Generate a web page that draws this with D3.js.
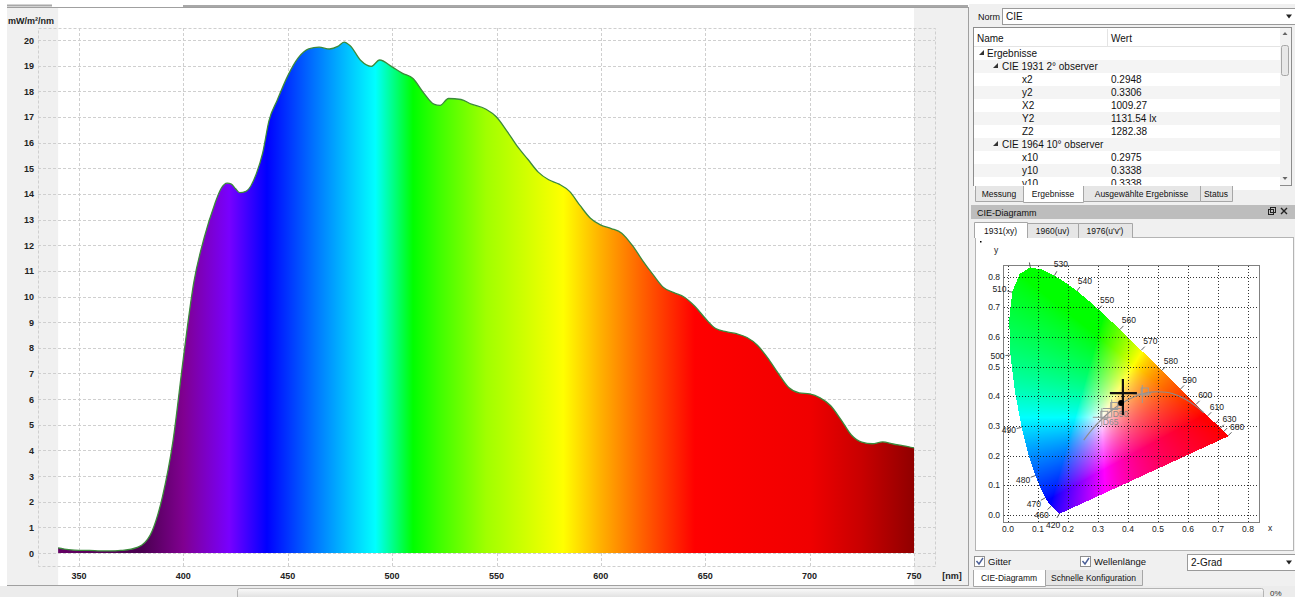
<!DOCTYPE html>
<html>
<head>
<meta charset="utf-8">
<script src="https://cdn.jsdelivr.net/npm/d3@7"></script>
<style>
body { margin: 0; background: #fff; overflow: hidden; }
text { font-family: "Liberation Sans", Arial, sans-serif; }
</style>
</head>
<body>
<svg id="main" width="1295" height="597"></svg>
<script>
// spectrum [nm, mW/m²/nm]
var spectrum = [
  [340,0.2],[345,0.13],[350,0.1],[355,0.1],[360,0.08],[365,0.08],[370,0.1],[375,0.15],
  [380,0.3],[385,0.85],[390,2.2],[395,4.35],[400,7.6],[405,10.55],[410,12.3],[415,13.6],
  [418,14.2],[421,14.42],[423,14.38],[425,14.2],[427,14.05],[430,14.1],[435,14.8],[438,15.6],
  [441,16.85],[445,17.66],[450,18.6],[455,19.3],[460,19.65],[465,19.72],[470,19.65],[474,19.75],
  [477,19.92],[480,19.77],[485,19.2],[490,18.97],[494,19.22],[500,18.95],[505,18.7],[510,18.5],
  [515,17.95],[520,17.5],[523,17.45],[527,17.72],[533,17.68],[538,17.5],[545,17.3],[550,17.0],
  [555,16.45],[560,15.85],[565,15.35],[570,14.85],[575,14.55],[580,14.38],[585,14.1],[590,13.55],
  [595,13.05],[600,12.78],[605,12.65],[610,12.47],[615,12.0],[620,11.4],[625,10.85],[630,10.35],
  [635,10.15],[640,9.97],[645,9.62],[650,9.15],[655,8.75],[660,8.63],[665,8.55],[670,8.4],
  [675,8.1],[680,7.6],[685,7.0],[690,6.45],[695,6.24],[700,6.2],[705,6.05],[710,5.75],
  [715,5.2],[720,4.6],[725,4.32],[730,4.26],[735,4.33],[740,4.25],[745,4.18],[750,4.1]
];
var fillStops = [
  [340,"#640064"],[380,"#4a0050"],[400,"#800090"],[422,"#7800ff"],[440,"#0000ff"],
  [462,"#0070ff"],[480,"#00c8ff"],[492,"#00ffff"],[510,"#00ff00"],[523,"#40ff00"],
  [545,"#a0ff00"],[582,"#ffff00"],[600,"#ffb000"],[620,"#ff6000"],[645,"#ff0000"],
  [700,"#f00000"],[725,"#c80000"],[750,"#900000"]
];
var xTicks = [350,400,450,500,550,600,650,700,750];
var yTicks = d3.range(0, 21);

// CIE 1931 spectral locus [nm, x, y]
var locus = [
  [380,0.1741,0.0050],[390,0.1738,0.0049],[400,0.1733,0.0048],[410,0.1726,0.0048],[420,0.1714,0.0051],
  [430,0.1689,0.0069],[440,0.1644,0.0109],[450,0.1566,0.0177],[455,0.1510,0.0227],[460,0.1440,0.0297],
  [465,0.1355,0.0399],[470,0.1241,0.0578],[475,0.1096,0.0868],[480,0.0913,0.1327],[485,0.0687,0.2007],
  [490,0.0454,0.2950],[495,0.0235,0.4127],[500,0.0082,0.5384],[505,0.0039,0.6548],[510,0.0139,0.7502],
  [515,0.0389,0.8120],[520,0.0743,0.8338],[525,0.1142,0.8262],[530,0.1547,0.8059],[535,0.1929,0.7816],
  [540,0.2296,0.7543],[545,0.2658,0.7243],[550,0.3016,0.6923],[555,0.3373,0.6589],[560,0.3731,0.6245],
  [565,0.4087,0.5896],[570,0.4441,0.5547],[575,0.4788,0.5202],[580,0.5125,0.4866],[585,0.5448,0.4544],
  [590,0.5752,0.4242],[595,0.6029,0.3965],[600,0.6270,0.3725],[605,0.6482,0.3514],[610,0.6658,0.3340],
  [615,0.6801,0.3197],[620,0.6915,0.3083],[630,0.7079,0.2920],[640,0.7190,0.2809],[650,0.7260,0.2740],
  [660,0.7300,0.2700],[680,0.7334,0.2666],[700,0.7347,0.2653]
];
var locusLabels = [420,460,470,480,490,500,510,530,540,550,560,570,580,590,600,610,630,680];
var locusTicks = [420,460,470,480,490,500,510,520,530,540,550,560,570,580,590,600,610,620,630,640,680];
var planck = [
  [0.6528,0.3444],[0.6251,0.3674],[0.5857,0.3931],[0.5497,0.4081],[0.5267,0.4133],[0.4770,0.4137],
  [0.4369,0.4041],[0.4053,0.3907],[0.3805,0.3768],[0.3451,0.3516],[0.3221,0.3318],[0.3064,0.3166],
  [0.2952,0.3048],[0.2807,0.2884],[0.2637,0.2675],[0.2524,0.2521]
];
var whitePoints = [["D65",0.3127,0.3290],["D50",0.3457,0.3585],["",0.4476,0.4074]];
var measuredCross = [0.383, 0.397];
var measuredDot = [0.377, 0.377];
var cieTicks = [0,0.1,0.2,0.3,0.4,0.5,0.6,0.7,0.8];

var tableRows = [
  [0,"Ergebnisse",""],[1,"CIE 1931 2° observer",""],[2,"x2","0.2948"],[2,"y2","0.3306"],
  [2,"X2","1009.27"],[2,"Y2","1131.54 lx"],[2,"Z2","1282.38"],[1,"CIE 1964 10° observer",""],
  [2,"x10","0.2975"],[2,"y10","0.3338"],[2,"y10","0.3338"]
];
var resultTabs = ["Messung","Ergebnisse","Ausgewählte Ergebnisse","Status"];
var cieTabs = ["1931(xy)","1960(uv)","1976(u'v')"];
var bottomTabs = ["CIE-Diagramm","Schnelle Konfiguration"];

var svg = d3.select("#main");
var ui = "#a0a0a0";

// ---------- spectrum panel ----------
var x = d3.scaleLinear().domain([350, 750]).range([79, 914]);
var y = d3.scaleLinear().domain([0, 20]).range([553, 40]);

svg.append("rect").attr("x", 7).attr("y", 8).attr("width", 961).attr("height", 578).attr("fill", "#fff");
svg.append("rect").attr("x", 7).attr("y", 8).attr("width", x(340) - 7).attr("height", 578).attr("fill", "#f0f0f0");
svg.append("rect").attr("x", x(750)).attr("y", 8).attr("width", 968 - x(750)).attr("height", 578).attr("fill", "#f0f0f0");
svg.append("line").attr("x1", 7).attr("x2", 968).attr("y1", 7.5).attr("y2", 7.5).attr("stroke", ui);
svg.append("line").attr("x1", 7).attr("x2", 52).attr("y1", 5.5).attr("y2", 5.5).attr("stroke", "#a8a8a8").attr("stroke-width", 2);
svg.append("line").attr("x1", 183).attr("x2", 968).attr("y1", 6).attr("y2", 6).attr("stroke", "#a8a8a8").attr("stroke-width", 2);
svg.append("line").attr("x1", 968.5).attr("x2", 968.5).attr("y1", 7).attr("y2", 586).attr("stroke", ui);

var grid = svg.append("g").attr("stroke", "#cfcfcf").attr("stroke-dasharray", "3,2").attr("fill", "none");
grid.append("rect").attr("x", 38.5).attr("y", 28.5).attr("width", 897).attr("height", 538);
grid.selectAll(".vg").data(xTicks).enter().append("line")
  .attr("x1", function(d) { return Math.round(x(d)) + 0.5; })
  .attr("x2", function(d) { return Math.round(x(d)) + 0.5; })
  .attr("y1", 28).attr("y2", 566);
grid.selectAll(".hg").data(yTicks).enter().append("line")
  .attr("y1", function(d) { return Math.round(y(d)) + 0.5; })
  .attr("y2", function(d) { return Math.round(y(d)) + 0.5; })
  .attr("x1", 38).attr("x2", 935);

var grad = svg.append("defs").append("linearGradient").attr("id", "spec")
  .attr("gradientUnits", "userSpaceOnUse")
  .attr("x1", x(340)).attr("x2", x(750)).attr("y1", 0).attr("y2", 0);
grad.selectAll("stop").data(fillStops).enter().append("stop")
  .attr("offset", function(d) { return (d[0] - 340) / 410; })
  .attr("stop-color", function(d) { return d[1]; });

var area = d3.area().x(function(d) { return x(d[0]); }).y0(y(0)).y1(function(d) { return y(d[1]); }).curve(d3.curveMonotoneX);
var line = d3.line().x(function(d) { return x(d[0]); }).y(function(d) { return y(d[1]); }).curve(d3.curveMonotoneX);
svg.append("path").datum(spectrum).attr("d", area).attr("fill", "url(#spec)");
svg.append("path").datum(spectrum).attr("d", line).attr("fill", "none").attr("stroke", "#3b8a3b").attr("stroke-width", 1.3);

svg.selectAll(".yl").data(yTicks).enter().append("text")
  .attr("x", 34).attr("y", function(d) { return y(d) + 3.5; })
  .attr("text-anchor", "end").attr("font-size", 9).attr("font-weight", "bold").attr("fill", "#222")
  .text(function(d) { return d; });
svg.selectAll(".xl").data(xTicks).enter().append("text")
  .attr("x", function(d) { return x(d); }).attr("y", 579)
  .attr("text-anchor", "middle").attr("font-size", 9).attr("font-weight", "bold").attr("fill", "#222")
  .text(function(d) { return d; });
svg.append("text").attr("x", 952).attr("y", 579).attr("text-anchor", "middle").attr("font-size", 9)
  .attr("font-weight", "bold").attr("fill", "#222").text("[nm]");
svg.append("text").attr("x", 8).attr("y", 24).attr("font-size", 9).attr("font-weight", "bold").attr("fill", "#222").text("mW/m²/nm");

// bottom status bar
svg.append("rect").attr("x", 0).attr("y", 586).attr("width", 1295).attr("height", 11).attr("fill", "#ececec");
svg.append("line").attr("x1", 7).attr("x2", 968).attr("y1", 585.5).attr("y2", 585.5).attr("stroke", ui);
var pg = svg.select("defs").append("linearGradient").attr("id", "pbar").attr("x1", 0).attr("x2", 0).attr("y1", 0).attr("y2", 1);
pg.append("stop").attr("offset", 0).attr("stop-color", "#fafafa");
pg.append("stop").attr("offset", 1).attr("stop-color", "#d8d8d8");
svg.append("rect").attr("x", 237.5).attr("y", 588.5).attr("width", 1026).attr("height", 12).attr("rx", 2)
  .attr("fill", "url(#pbar)").attr("stroke", "#b4b4b4");
svg.append("text").attr("x", 1270).attr("y", 596).attr("font-size", 8).attr("fill", "#333").text("0%");

// ---------- right panel ----------
var rp = svg.append("g");
rp.append("rect").attr("x", 969).attr("y", 4).attr("width", 326).attr("height", 582).attr("fill", "#f0f0f0");

function combo(x0, x1, y0, y1, label) {
  rp.append("rect").attr("x", x0 + 0.5).attr("y", y0 + 0.5).attr("width", x1 - x0).attr("height", y1 - y0)
    .attr("fill", "#fff").attr("stroke", "#9a9a9a");
  rp.append("text").attr("x", x0 + 4).attr("y", y1 - 4).attr("font-size", 10).attr("fill", "#111").text(label);
  rp.append("path").attr("d", "M" + (x1 - 10) + "," + (y0 + (y1 - y0) / 2 - 1.5) + "h6l-3,4z").attr("fill", "#222");
}
combo(1002, 1296, 8, 24, "CIE");
rp.append("text").attr("x", 978).attr("y", 20).attr("font-size", 9).attr("fill", "#111").text("Norm");

// results table
rp.append("rect").attr("x", 973.5).attr("y", 27.5).attr("width", 318).attr("height", 158).attr("fill", "#fff").attr("stroke", "#8c8c8c");
rp.selectAll(".row").data(tableRows).enter().append("rect")
  .attr("x", 974).attr("y", function(d, i) { return 47 + i * 13; })
  .attr("width", 306).attr("height", 13)
  .attr("fill", function(d, i) { return i % 2 ? "#f4f4f4" : "#fff"; });
rp.append("rect").attr("x", 974).attr("y", 180).attr("width", 306).attr("height", 5).attr("fill", "#fff");
rp.append("line").attr("x1", 974).attr("x2", 1280).attr("y1", 46.5).attr("y2", 46.5).attr("stroke", "#e4e4e4");
rp.append("line").attr("x1", 1107.5).attr("x2", 1107.5).attr("y1", 29).attr("y2", 46).attr("stroke", "#e4e4e4");
rp.append("text").attr("x", 977).attr("y", 42).attr("font-size", 10).attr("fill", "#111").text("Name");
rp.append("text").attr("x", 1111).attr("y", 42).attr("font-size", 10).attr("fill", "#111").text("Wert");
var rowText = rp.append("g").attr("clip-path", "url(#tclip)");
svg.select("defs").append("clipPath").attr("id", "tclip").append("rect").attr("x", 974).attr("y", 28).attr("width", 306).attr("height", 157);
rowText.selectAll(".nm").data(tableRows).enter().append("text")
  .attr("x", function(d) { return [987, 1002, 1022][d[0]]; })
  .attr("y", function(d, i) { return 57 + i * 13; })
  .attr("font-size", 10).attr("fill", "#111")
  .text(function(d) { return d[1]; });
rowText.selectAll(".val").data(tableRows).enter().append("text")
  .attr("x", 1111).attr("y", function(d, i) { return 57 + i * 13; })
  .attr("font-size", 10).attr("fill", "#111")
  .text(function(d) { return d[2]; });
rowText.selectAll(".tri").data(tableRows.filter(function(d) { return d[0] < 2; })).enter().append("path")
  .attr("d", function(d) {
    var i = tableRows.indexOf(d), cx0 = d[0] ? 994 : 980, cy0 = 54 + i * 13;
    return "M" + (cx0 + 4) + "," + (cy0 - 4) + "L" + (cx0 + 4) + "," + (cy0 + 1) + "L" + (cx0 - 1) + "," + (cy0 + 1) + "z";
  })
  .attr("fill", "#333");
// scrollbar
rp.append("rect").attr("x", 1280).attr("y", 28).attr("width", 11).attr("height", 157).attr("fill", "#f2f2f2");
rp.append("rect").attr("x", 1281.5).attr("y", 45.5).attr("width", 7).attr("height", 30).attr("rx", 2).attr("fill", "#e8e8e8").attr("stroke", "#a6a6a6");
rp.append("path").attr("d", "M1282.5,35h5l-2.5,-3z").attr("fill", "#666");
rp.append("path").attr("d", "M1282.5,177h5l-2.5,3z").attr("fill", "#666");

function tabRow(labels, edges, sel, y0, y1, down) {
  labels.forEach(function(lb, i) {
    var a = edges[i], b = edges[i + 1], s = i === sel;
    var t = down ? y0 : y1, e = down ? y1 + (s ? 1 : 0) : y0 - (s ? 1 : 0);
    rp.append("path")
      .attr("d", "M" + (a + 0.5) + "," + t + "V" + (e + 0.5) + "H" + (b + 0.5) + "V" + t)
      .attr("fill", s ? "#fff" : "#e6e6e6").attr("stroke", "#a6a6a6");
    rp.append("text").attr("x", (a + b) / 2).attr("y", (y0 + y1) / 2 + 3.5)
      .attr("text-anchor", "middle").attr("font-size", 8.5).attr("fill", "#111").text(lb);
  });
}
tabRow(resultTabs, [975, 1023, 1083, 1200, 1232], 1, 186, 201, true);

// CIE-Diagramm dock title
rp.append("rect").attr("x", 971).attr("y", 205).attr("width", 324).attr("height", 14).attr("fill", "#bdbdbd");
rp.append("text").attr("x", 977).attr("y", 215.5).attr("font-size", 9).attr("fill", "#111").text("CIE-Diagramm");
rp.append("rect").attr("x", 1268.5).attr("y", 209.5).attr("width", 5).attr("height", 5).attr("fill", "none").attr("stroke", "#222");
rp.append("rect").attr("x", 1270.5).attr("y", 207.5).attr("width", 5).attr("height", 5).attr("fill", "none").attr("stroke", "#222");
rp.append("path").attr("d", "M1281,208l6,6M1287,208l-6,6").attr("stroke", "#222").attr("stroke-width", 1.4);

// diagram area
rp.append("rect").attr("x", 975.5).attr("y", 237.5).attr("width", 318).attr("height", 313).attr("fill", "#fff").attr("stroke", "#b4b4b4");
tabRow(cieTabs, [974, 1027, 1078, 1132], 0, 223, 238, false);

var cx = d3.scaleLinear().domain([0, 0.8]).range([1008, 1248]);
var cy = d3.scaleLinear().domain([0, 0.8]).range([515, 277.4]);
var fx0 = 1003, fy0 = 265, fw = 256, fh = 257;
rp.append("rect").attr("x", fx0 + 0.5).attr("y", fy0 + 0.5).attr("width", fw).attr("height", fh).attr("fill", "#fff").attr("stroke", "#808080");

var poly = locus.map(function(d) { return [cx(d[1]), cy(d[2])]; });
function xyColor(xx, yy) {
  var X = xx / yy, Y = 1, Z = (1 - xx - yy) / yy;
  var c = [3.2406 * X - 1.5372 * Y - 0.4986 * Z, -0.9689 * X + 1.8758 * Y + 0.0415 * Z, 0.0557 * X - 0.2040 * Y + 1.0570 * Z];
  c = c.map(function(v) { return Math.max(v, 0); });
  var m = Math.max(c[0], c[1], c[2]);
  return c.map(function(v) { return Math.round(Math.pow(v / m, 0.75) * 255); });
}
var cv = document.createElement("canvas");
cv.width = fw; cv.height = fh;
var ctx = cv.getContext("2d");
var img = ctx.createImageData(fw, fh);
for (var j = 0; j < fh; j++) {
  for (var i = 0; i < fw; i++) {
    var px = fx0 + i + 0.5, py = fy0 + j + 0.5;
    if (!d3.polygonContains(poly, [px, py])) continue;
    var col = xyColor(cx.invert(px), cy.invert(py));
    var k = (j * fw + i) * 4;
    img.data[k] = col[0]; img.data[k + 1] = col[1]; img.data[k + 2] = col[2]; img.data[k + 3] = 255;
  }
}
ctx.putImageData(img, 0, 0);
rp.append("image").attr("x", fx0).attr("y", fy0).attr("width", fw).attr("height", fh).attr("href", cv.toDataURL());

var cg = rp.append("g").attr("stroke", "#111").attr("stroke-dasharray", "1,2").attr("opacity", 0.85);
cg.selectAll(".cv").data(cieTicks).enter().append("line")
  .attr("x1", function(d) { return Math.round(cx(d)) + 0.5; }).attr("x2", function(d) { return Math.round(cx(d)) + 0.5; })
  .attr("y1", fy0 + 1).attr("y2", fy0 + fh);
cg.selectAll(".ch").data(cieTicks).enter().append("line")
  .attr("y1", function(d) { return Math.round(cy(d)) + 0.5; }).attr("y2", function(d) { return Math.round(cy(d)) + 0.5; })
  .attr("x1", fx0 + 1).attr("x2", fx0 + fw);
rp.append("rect").attr("x", fx0 + 0.5).attr("y", fy0 + 0.5).attr("width", fw).attr("height", fh).attr("fill", "none").attr("stroke", "#808080");

rp.selectAll(".cxl").data(cieTicks).enter().append("text")
  .attr("x", function(d) { return cx(d); }).attr("y", 532)
  .attr("text-anchor", "middle").attr("font-size", 8.5).attr("fill", "#222").text(function(d) { return d.toFixed(1); });
rp.selectAll(".cyl").data(cieTicks).enter().append("text")
  .attr("x", 1000).attr("y", function(d) { return cy(d) + 3; })
  .attr("text-anchor", "end").attr("font-size", 8.5).attr("fill", "#222").text(function(d) { return d.toFixed(1); });
rp.append("text").attr("x", 996).attr("y", 253).attr("text-anchor", "middle").attr("font-size", 8.5).attr("fill", "#222").text("y");
rp.append("text").attr("x", 1270).attr("y", 531).attr("text-anchor", "middle").attr("font-size", 8.5).attr("fill", "#222").text("x");
rp.append("rect").attr("x", 980).attr("y", 241).attr("width", 1.5).attr("height", 1.5).attr("fill", "#000");

// wavelength ticks and labels on the locus
var wpx = cx(0.333), wpy = cy(0.333);
function normalAt(nm) {
  var idx = locus.findIndex(function(d) { return d[0] === nm; });
  var a = poly[Math.max(idx - 1, 0)], b = poly[Math.min(idx + 1, poly.length - 1)], p = poly[idx];
  var tx = b[0] - a[0], ty = b[1] - a[1], L = Math.hypot(tx, ty) || 1;
  var nx = ty / L, ny = -tx / L;
  if ((p[0] - wpx) * nx + (p[1] - wpy) * ny < 0) { nx = -nx; ny = -ny; }
  return [p, nx, ny];
}
locusTicks.forEach(function(nm) {
  var n = normalAt(nm), p = n[0];
  rp.append("line").attr("x1", p[0]).attr("y1", p[1]).attr("x2", p[0] + n[1] * 5).attr("y2", p[1] + n[2] * 5)
    .attr("stroke", "#333").attr("stroke-width", 0.8);
});
locusLabels.forEach(function(nm) {
  var n = normalAt(nm), p = n[0];
  rp.append("text").attr("x", p[0] + n[1] * 13).attr("y", p[1] + n[2] * 13 + 3)
    .attr("text-anchor", "middle").attr("font-size", 8.5).attr("fill", "#222").text(nm);
});

// Planckian locus and reference white points
rp.append("path").datum(planck)
  .attr("d", d3.line().x(function(d) { return cx(d[0]); }).y(function(d) { return cy(d[1]); }).curve(d3.curveCatmullRom))
  .attr("fill", "none").attr("stroke", "#8c8c8c").attr("stroke-width", 1.2);
whitePoints.forEach(function(w) {
  var px = cx(w[1]), py = cy(w[2]);
  rp.append("path").attr("d", "M" + (px - 9) + "," + py + "H" + (px + 9) + "M" + px + "," + (py - 9) + "V" + (py + 9))
    .attr("stroke", "#9a9a9a").attr("stroke-width", 1);
  rp.append("rect").attr("x", px - 1).attr("y", py - 6).attr("width", 7).attr("height", 7).attr("fill", "none").attr("stroke", "#9a9a9a");
  rp.append("text").attr("x", px + 1).attr("y", py + 8).attr("font-size", 8.5).attr("fill", "#8a8a8a").text(w[0]);
});
var mx = cx(measuredCross[0]), my = cy(measuredCross[1]);
rp.append("path").attr("d", "M" + (mx - 13) + "," + (my - 4) + "H" + (mx + 14) + "M" + mx + "," + (my - 18) + "V" + (my + 18))
  .attr("stroke", "#111").attr("stroke-width", 2.2);
rp.append("circle").attr("cx", cx(measuredDot[0])).attr("cy", cy(measuredDot[1])).attr("r", 3).attr("fill", "#000");

// checkboxes and combo under the diagram
function checkbox(x0, label) {
  rp.append("rect").attr("x", x0 + 0.5).attr("y", 556.5).attr("width", 10).attr("height", 10).attr("fill", "#fff").attr("stroke", "#8f8f8f");
  rp.append("path").attr("d", "M" + (x0 + 2.5) + ",561l2.5,3l4,-6").attr("fill", "none").attr("stroke", "#4a5f97").attr("stroke-width", 1.4);
  rp.append("text").attr("x", x0 + 14).attr("y", 565).attr("font-size", 9.5).attr("fill", "#111").text(label);
}
checkbox(974, "Gitter");
checkbox(1080, "Wellenlänge");
combo(1187, 1296, 554, 570, "2-Grad");
tabRow(bottomTabs, [973, 1045, 1142], 0, 570, 585, true);
</script>
</body>
</html>
